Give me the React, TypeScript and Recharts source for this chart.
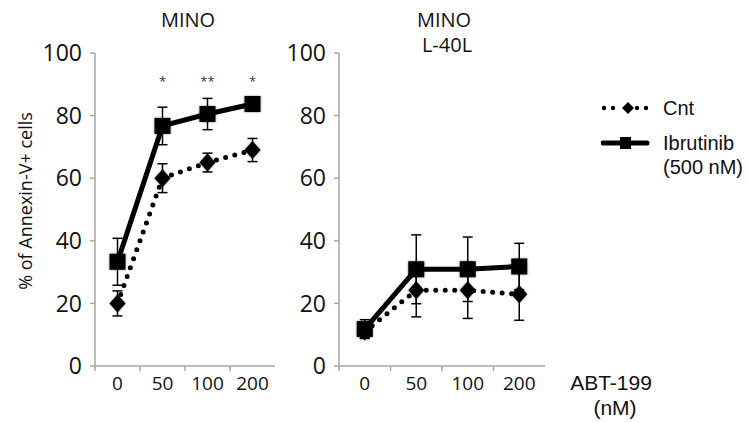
import { ErrorBar, Legend, Line, LineChart, ReferenceDot, XAxis, YAxis } from "recharts";

const doses = ["0", "50", "100", "200"];
const yTicks = [0, 20, 40, 60, 80, 100];
const seriesNames = ["Cnt", "Ibrutinib (500 nM)"];

// MINO
const minoCnt = [20, 60, 65, 69];
const minoCntErr = [4, 4.6, 3, 3.7];
const minoIbr = [33.3, 76.7, 80.5, 83.7];
const minoIbrErr = [7.5, 6, 5, 1.5];
const minoSig = ["", "*", "**", "*"];
const sigLevel = 91;

// MINO L-40L
const l40Cnt = [11, 24.2, 24.2, 22.9];
const l40CntErr = [2, 8.5, 9, 8.3];
const l40Ibr = [11.8, 30.9, 30.9, 31.8];
const l40IbrErr = [3, 11, 10.3, 7.4];

const toRows = (cnt: number[], cntErr: number[], ibr: number[], ibrErr: number[]) =>
  doses.map((d, i) => ({ dose: d, cnt: cnt[i], cntErr: cntErr[i], ibr: ibr[i], ibrErr: ibrErr[i] }));

const minoData = toRows(minoCnt, minoCntErr, minoIbr, minoIbrErr);
const l40Data = toRows(l40Cnt, l40CntErr, l40Ibr, l40IbrErr);

const AXIS = "#a6a6a6";
const SANS = "'Open Sans', sans-serif";
const ARIAL = "'Liberation Sans', Arial, sans-serif";
const SOFT = { filter: "drop-shadow(0.5px 0.5px 1px rgba(0,0,0,0.45))" };

const Square = (p: any) =>
  p.cx == null ? <g key={p.index} /> : (
    <rect key={p.index} x={p.cx - 8} y={p.cy - 8} width={16} height={16} fill="#000" style={SOFT} />
  );

const Diamond = (p: any) =>
  p.cx == null ? <g key={p.index} /> : (
    <polygon
      key={p.index}
      points={`${p.cx},${p.cy - 9} ${p.cx + 8},${p.cy} ${p.cx},${p.cy + 9} ${p.cx - 8},${p.cy}`}
      fill="#000"
      style={SOFT}
    />
  );

const makeXTick = (half: number) => (p: any) => (
  <g>
    <line x1={p.x - half} x2={p.x - half} y1={p.y - 10} y2={p.y - 5} stroke={AXIS} strokeWidth={1.5} />
    <text x={p.x} y={p.y} dy="0.72em" textAnchor="middle" fontSize={19} fill="#111">
      {p.payload.value}
    </text>
  </g>
);

function LegendBox() {
  return (
    <div style={{ fontFamily: ARIAL, fontSize: 20, color: "#111", lineHeight: "24px" }}>
      <div style={{ display: "flex", alignItems: "flex-start", marginBottom: 11 }}>
        <svg width={62} height={24}>
          {[3, 12, 36, 45].map((x) => (
            <circle key={x} cx={x} cy={12} r={2.2} fill="#000" />
          ))}
          <polygon points="27,6 33,12 27,18 21,12" fill="#000" />
        </svg>
        <span>{seriesNames[0]}</span>
      </div>
      <div style={{ display: "flex", alignItems: "flex-start" }}>
        <svg width={62} height={24}>
          <line x1={2} x2={46} y1={12} y2={12} stroke="#000" strokeWidth={5} strokeLinecap="round" />
          <rect x={19} y={6} width={11} height={12} fill="#000" />
        </svg>
        <span>
          Ibrutinib
          <br />
          (500 nM)
        </span>
      </div>
    </div>
  );
}

function Series() {
  return [
    <Line
      key="cnt"
      dataKey="cnt"
      name={seriesNames[0]}
      stroke="#000"
      strokeWidth={5}
      strokeDasharray="0 9.5"
      strokeLinecap="round"
      dot={Diamond}
      activeDot={false}
      isAnimationActive={false}
    >
      <ErrorBar dataKey="cntErr" width={5} stroke="#000" strokeWidth={1.5} direction="y" />
    </Line>,
    <Line
      key="ibr"
      dataKey="ibr"
      name={seriesNames[1]}
      stroke="#000"
      strokeWidth={5}
      dot={Square}
      activeDot={false}
      isAnimationActive={false}
    >
      <ErrorBar dataKey="ibrErr" width={5} stroke="#000" strokeWidth={1.5} direction="y" />
    </Line>,
  ];
}

export default function App() {
  return (
    <div style={{ position: "absolute", left: 0, top: 0, width: 748, height: 423, background: "#fff", fontFamily: SANS }}>
      <div style={{ position: "absolute", left: 0, top: 0 }}>
        <LineChart width={290} height={423} data={minoData} margin={{ top: 53, right: 15, bottom: 0, left: 0 }}>
          <XAxis
            dataKey="dose"
            scale="band"
            height={57}
            stroke={AXIS}
            strokeWidth={1.5}
            tickLine={false}
            tickSize={0}
            tickMargin={10}
            tick={makeXTick(22.5)}
          />
          <YAxis
            domain={[0, 100]}
            ticks={yTicks}
            interval={0}
            width={95}
            stroke={AXIS}
            strokeWidth={1.5}
            tickSize={5}
            tickMargin={8}
            tick={{ fill: "#111", fontSize: 23 }}
          />
          {Series()}
          {minoSig.map((s, i) =>
            s ? (
              <ReferenceDot
                key={i}
                x={doses[i]}
                y={sigLevel}
                r={0}
                stroke="none"
                label={{ value: s, position: "center", fontSize: 13, fill: "#333" }}
              />
            ) : null
          )}
        </LineChart>
      </div>
      <div style={{ position: "absolute", left: 280, top: 0 }}>
        <LineChart width={468} height={423} data={l40Data} margin={{ top: 53, right: 203, bottom: 0, left: 0 }}>
          <XAxis
            dataKey="dose"
            scale="band"
            height={57}
            stroke={AXIS}
            strokeWidth={1.5}
            tickLine={false}
            tickSize={0}
            tickMargin={10}
            tick={makeXTick(25.75)}
          />
          <YAxis
            domain={[0, 100]}
            ticks={yTicks}
            interval={0}
            width={59}
            stroke={AXIS}
            strokeWidth={1.5}
            tickSize={5}
            tickMargin={8}
            tick={{ fill: "#111", fontSize: 23 }}
          />
          {Series()}
          <Legend
            layout="vertical"
            align="center"
            verticalAlign="middle"
            content={LegendBox}
            wrapperStyle={{ left: 321, top: 96, width: 150 }}
          />
        </LineChart>
      </div>
      <svg width={748} height={423} style={{ position: "absolute", left: 0, top: 0, pointerEvents: "none" }}>
        <text x={188} y={27} textAnchor="middle" fontSize={20} fill="#111">MINO</text>
        <text x={444} y={27} textAnchor="middle" fontSize={20} fill="#111">MINO</text>
        <text x={447} y={52} textAnchor="middle" fontSize={20} fill="#111">L-40L</text>
        <text
          x={25}
          y={201}
          transform="rotate(-90 25 201)"
          textAnchor="middle"
          dominantBaseline="central"
          fontSize={18}
          fill="#111"
        >
          % of Annexin-V+ cells
        </text>
        <text x={611} y={390} textAnchor="middle" fontSize={21} fill="#111" fontFamily={ARIAL}>ABT-199</text>
        <text x={615} y={415} textAnchor="middle" fontSize={21} fill="#111" fontFamily={ARIAL}>(nM)</text>
      </svg>
    </div>
  );
}
